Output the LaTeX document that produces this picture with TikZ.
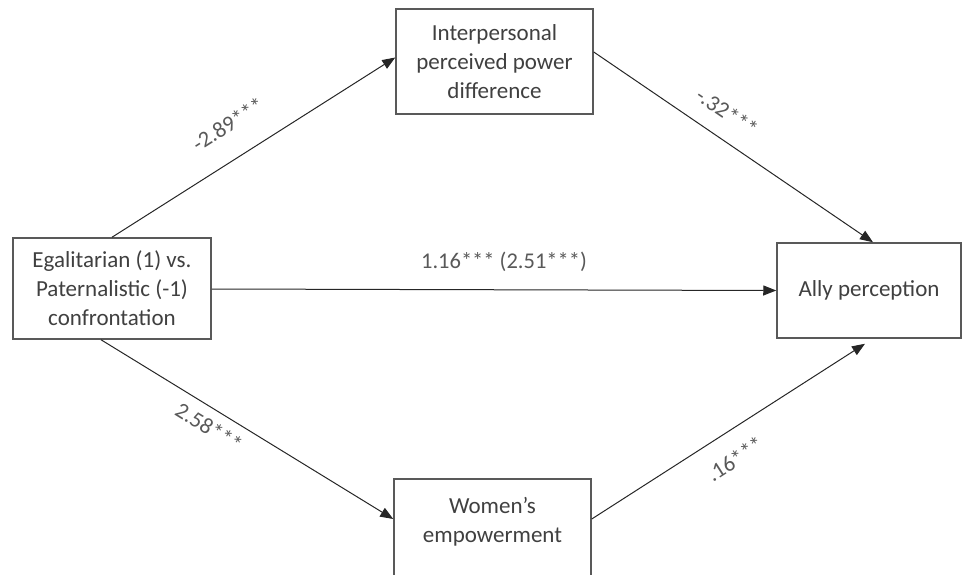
\documentclass[tikz,border=0pt]{standalone}
\usepackage{fontspec}
\setmainfont{Carlito}
\usetikzlibrary{arrows.meta}
\definecolor{txt}{HTML}{404040}
\definecolor{labc}{HTML}{595959}
\definecolor{boxc}{HTML}{595959}
\begin{document}
\begin{tikzpicture}[x=1pt,y=-1pt,
  vbox/.style={draw=boxc, line width=1.5pt, fill=white, align=center, text=txt,
    font=\fontsize{23}{29}\selectfont, inner sep=0pt},
  conn/.style={line width=1pt, draw=black!85, -{Triangle[length=13pt,width=10pt]}},
  lab/.style={text=labc, font=\fontsize{22.5}{27}\selectfont, inner sep=0pt}]
\useasboundingbox (0,0) rectangle (962,575);
\clip (0,0) rectangle (962,575);
\node[vbox, minimum width=198pt, minimum height=101pt] (egal) at (112,288.5)
  {Egalitarian (1) vs.\\Paternalistic (-1)\\confrontation};
\node[vbox, minimum width=197pt, minimum height=105pt] (ipp) at (494.5,61.5)
  {Interpersonal\\perceived power\\difference};
\node[vbox, minimum width=197pt, minimum height=105pt] (wom) at (492.5,531.5)
  {Women’s\\empowerment\\[-6pt]\mbox{}};
\node[vbox, minimum width=184pt, minimum height=95pt] (ally) at (869,290.5)
  {Ally perception};
\draw[conn] (egal.north) -- ([yshift=4pt]ipp.west);
\draw[conn] ([yshift=9.5pt]ipp.east) -- ([xshift=4pt]ally.north);
\draw[conn] ([yshift=-0.5pt]egal.east) -- (ally.west);
\draw[conn] ([xshift=-11pt]egal.south) -- ([yshift=12.5pt]wom.west);
\draw[conn] ([yshift=12.5pt]wom.east) -- ([xshift=-4pt,yshift=-5pt]ally.south);
\node[lab, rotate=32.4] (l1) at (228,124) {-2.89***};
\node[lab, rotate=-34.3] (l2) at (727,112) {-.32***};
\node[lab, rotate=-31.8] (l3) at (209,427) {2.58***};
\node[lab, rotate=32.7] (l4) at (735,459) {.16***};
\node[lab] (l5) at (504,262) {1.16*** (2.51***)};
\end{tikzpicture}
\end{document}
